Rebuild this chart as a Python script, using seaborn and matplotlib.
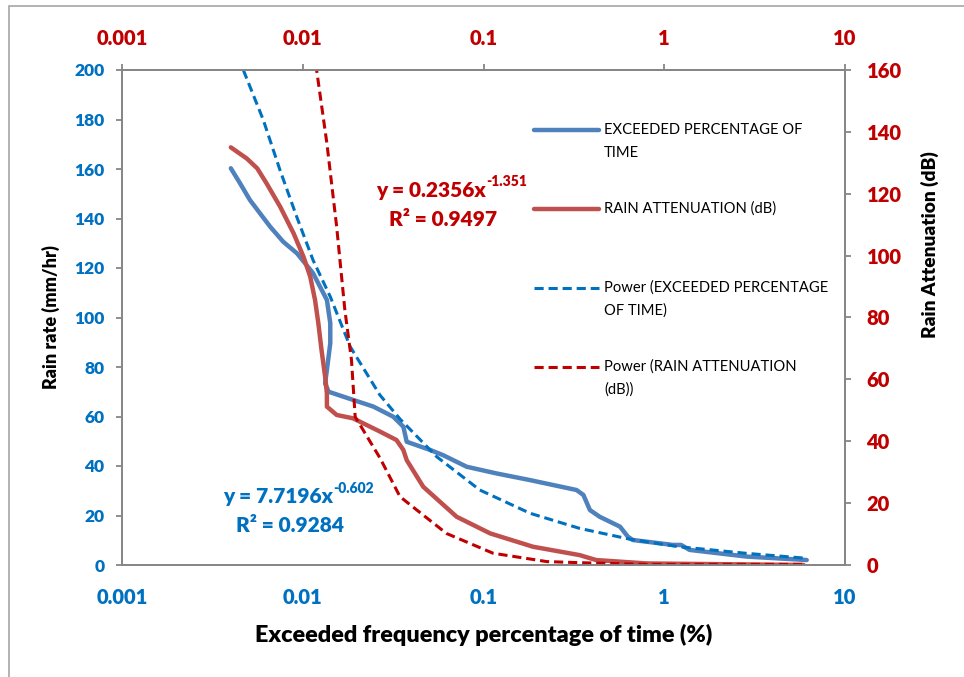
import numpy as np
import pandas as pd
import matplotlib
matplotlib.use("Agg")
import matplotlib.pyplot as plt
import seaborn as sns
from matplotlib.lines import Line2D
from matplotlib.patches import Rectangle
from matplotlib.ticker import FixedLocator, FuncFormatter, NullLocator

# exceeded percentage of time (%) vs rain rate (mm/hr)
rate_pct = [0.0040, 0.0045, 0.0051, 0.0058, 0.0066, 0.0078, 0.0093, 0.0114, 0.0136,
            0.0142, 0.0142, 0.0136, 0.0133, 0.0139, 0.0190, 0.0246, 0.0317, 0.0360,
            0.0376, 0.0506, 0.0597, 0.0807, 0.118, 0.181, 0.327, 0.357, 0.388, 0.439,
            0.569, 0.63, 0.67, 1.12, 1.24, 1.38, 2.86, 6.14]
rain_rate = [160.3, 154.2, 147.5, 142.1, 136.7, 130.6, 125.9, 117.9, 107.1,
             97.7, 89.6, 78.8, 73.4, 70.0, 66.7, 64.0, 59.9, 55.9,
             49.8, 46.5, 44.4, 39.7, 37.0, 34.3, 30.3, 28.3, 22.2, 19.5,
             15.5, 11.4, 10.1, 8.1, 8.1, 6.1, 3.4, 2.0]

# exceeded percentage of time (%) vs rain attenuation (dB)
att_pct = [0.0040, 0.0049, 0.0056, 0.0063, 0.0075, 0.0089, 0.0101, 0.0110, 0.0117,
           0.0122, 0.0127, 0.0133, 0.0136, 0.0136, 0.0154, 0.0190, 0.0268, 0.0330,
           0.0360, 0.0376, 0.0464, 0.071, 0.109, 0.188, 0.34, 0.42, 0.80, 5.9]
rain_att = [135.0, 131.4, 128.2, 123.4, 115.8, 107.2, 99.6, 93.2, 85.6,
            78.1, 69.5, 60.9, 55.5, 51.2, 48.5, 47.4, 43.1, 40.4,
            37.2, 33.9, 25.3, 15.6, 10.2, 5.9, 3.2, 1.6, 0.5, 0.0]

# power trend lines as drawn
trend_rate_pct = [0.00469, 0.00605, 0.00748, 0.00926, 0.0114, 0.0142, 0.0183, 0.0267,
                  0.0345, 0.055, 0.0954, 0.181, 0.34, 0.647, 1.2, 2.86, 6.14]
trend_rate = [200.0, 179.8, 159.6, 140.7, 123.2, 108.4, 88.2, 68.7,
              59.0, 43.8, 30.3, 20.9, 14.8, 10.4, 7.4, 4.7, 2.7]
trend_att_pct = [0.0118, 0.0136, 0.0154, 0.0171, 0.0186, 0.0195, 0.0268, 0.0345,
                 0.0427, 0.0624, 0.113, 0.224, 0.34, 0.80, 5.9]
trend_att = [162.0, 136.3, 109.4, 82.4, 66.3, 47.9, 34.5, 22.1,
             17.8, 10.2, 3.8, 1.1, 0.75, 0.2, 0.2]

x_ticks = [0.001, 0.01, 0.1, 1, 10]
legend_labels = [["EXCEEDED PERCENTAGE OF", "TIME"],
                 ["RAIN ATTENUATION (dB)"],
                 ["Power (EXCEEDED PERCENTAGE", "OF TIME)"],
                 ["Power (RAIN ATTENUATION", "(dB))"]]

BLUE = "#4F81BD"
RED = "#C0504D"
DBLUE = "#0070C0"
DRED = "#C00000"
GRAY = "#868686"
BOLD = "heavy"

sns.set_style("white")
plt.rcParams["font.family"] = ["Lato", "DejaVu Sans"]

fig = plt.figure(figsize=(9.64, 6.77), dpi=100)
W, H = 964, 677
ax = fig.add_axes([122 / W, 1 - 565 / H, (845 - 122) / W, (565 - 70) / H])
ax2 = ax.twinx()

df_rate = pd.DataFrame({"pct": rate_pct, "val": rain_rate})
df_att = pd.DataFrame({"pct": att_pct, "val": rain_att})
df_tr = pd.DataFrame({"pct": trend_rate_pct, "val": trend_rate})
df_ta = pd.DataFrame({"pct": trend_att_pct, "val": trend_att})

DASH = (0, (3, 1.6))
sns.lineplot(data=df_rate, x="pct", y="val", ax=ax, sort=False, estimator=None,
             color=BLUE, linewidth=3.2, solid_capstyle="round", solid_joinstyle="round")
sns.lineplot(data=df_tr, x="pct", y="val", ax=ax, sort=False, estimator=None,
             color=DBLUE, linewidth=2.2, linestyle=DASH)
sns.lineplot(data=df_att, x="pct", y="val", ax=ax2, sort=False, estimator=None,
             color=RED, linewidth=3.2, solid_capstyle="round", solid_joinstyle="round")
sns.lineplot(data=df_ta, x="pct", y="val", ax=ax2, sort=False, estimator=None,
             color=DRED, linewidth=2.2, linestyle=DASH)

for a in (ax, ax2):
    a.set_xscale("log")
    a.set_xlim(0.001, 10)
    a.set_xlabel("")
    a.set_ylabel("")
    a.xaxis.set_minor_locator(NullLocator())
    for s in a.spines.values():
        s.set_color(GRAY)
        s.set_linewidth(1.3)

ax.set_ylim(0, 200)
ax.set_yticks(np.arange(0, 201, 20))
ax2.set_ylim(0, 160)
ax2.set_yticks(np.arange(0, 161, 20))

fmt = FuncFormatter(lambda v, p: "{:g}".format(v))
ax.xaxis.set_major_locator(FixedLocator(x_ticks))
ax.xaxis.set_major_formatter(fmt)
ax2.xaxis.set_major_locator(FixedLocator(x_ticks))

ax.tick_params(axis="x", which="major", direction="out", length=4.5, width=1.3, color=GRAY,
               labelsize=14.5, labelcolor=DBLUE, pad=12)
ax.tick_params(axis="y", direction="out", length=4.5, width=1.3, color=GRAY,
               labelsize=12.5, labelcolor=DBLUE, pad=8, left=True)
ax2.tick_params(axis="y", direction="out", length=4.5, width=1.3, color=GRAY,
                labelsize=14.5, labelcolor=DRED, pad=11, right=True)
ax2.tick_params(axis="x", bottom=False, labelbottom=False)
for lab in ax.get_xticklabels() + ax.get_yticklabels() + ax2.get_yticklabels():
    lab.set_fontweight(BOLD)

top = ax.secondary_xaxis("top")
top.xaxis.set_major_locator(FixedLocator(x_ticks))
top.xaxis.set_minor_locator(NullLocator())
top.xaxis.set_major_formatter(fmt)
top.tick_params(direction="out", length=4.5, width=1.3, color=GRAY,
                labelsize=14.5, labelcolor=DRED, pad=11)
for lab in top.get_xticklabels():
    lab.set_fontweight(BOLD)
top.spines["top"].set_color(GRAY)
top.spines["top"].set_linewidth(1.3)

ax.set_ylabel("Rain rate (mm/hr)", fontsize=13, fontweight=BOLD, color="black", labelpad=10)
ax.set_xlabel("Exceeded frequency percentage of time (%)", fontsize=16.8,
              fontweight=BOLD, color="black", labelpad=12)
fig.text(930 / W, 1 - 245 / H, "Rain Attenuation (dB)", rotation=90, ha="center",
         va="center", fontsize=13.8, fontweight=BOLD, color="black")

# trend line equations
def equation(xc, yc, main, sup, r2, color):
    t = fig.text(xc / W, 1 - yc / H, main, ha="center", va="center", fontsize=15,
                 fontweight=BOLD, color=color)
    ax.annotate(sup, xy=(1, 0.62), xycoords=t, ha="left", va="bottom", fontsize=10,
                fontweight=BOLD, color=color, annotation_clip=False)
    fig.text((xc + 12) / W, 1 - (yc + 29) / H, r2, ha="center", va="center",
             fontsize=15, fontweight=BOLD, color=color)

equation(431, 190, "y = 0.2356x", "-1.351", "R² = 0.9497", DRED)
equation(278, 497, "y = 7.7196x", "-0.602", "R² = 0.9284", DBLUE)

# legend keys
styles = [(BLUE, "-", 3.2), (RED, "-", 3.2), (DBLUE, DASH, 2.2), (DRED, DASH, 2.2)]
for i, (lines, (c, ls, lw)) in enumerate(zip(legend_labels, styles)):
    yy = 130 + i * 79
    fig.add_artist(Line2D([534 / W, 599 / W], [1 - yy / H, 1 - yy / H], color=c,
                          linestyle=ls, linewidth=lw, solid_capstyle="round"))
    for j, line in enumerate(lines):
        fig.text(604 / W, 1 - (yy + j * 23) / H, line, ha="left", va="center",
                 fontsize=10.6, color="black")

# chart area border
fig.add_artist(Rectangle((9 / W, -0.01), 1.0, 1 - 6 / H + 0.01, transform=fig.transFigure,
                         fill=False, edgecolor="#A6A6A6", linewidth=1.2))

fig.savefig("out.png", dpi=100)
